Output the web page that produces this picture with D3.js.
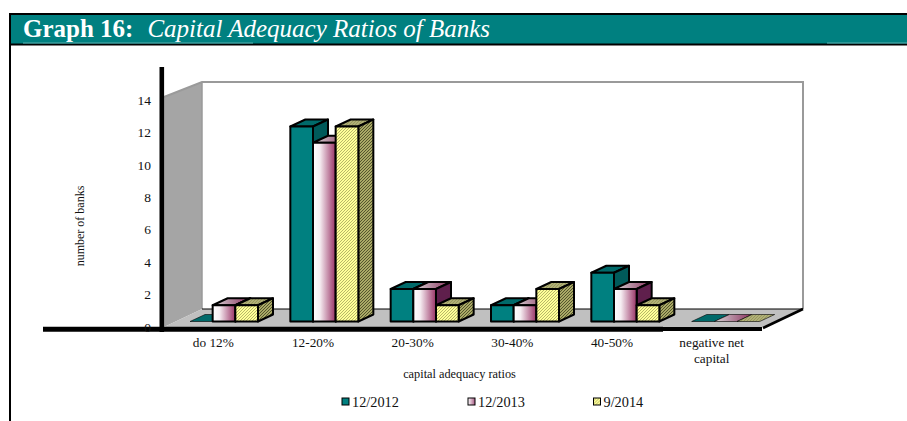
<!DOCTYPE html>
<html>
<head>
<meta charset="utf-8">
<script src="https://cdn.jsdelivr.net/npm/d3@7/dist/d3.min.js"></script>
<style>
html,body{margin:0;padding:0;background:#fff;overflow:hidden}
svg{display:block}
text{font-family:"Liberation Serif","Times New Roman",serif;fill:#111}
</style>
</head>
<body>
<script>
const categories = ["do 12%", "12-20%", "20-30%", "30-40%", "40-50%", "negative net capital"];
const seriesNames = ["12/2012", "12/2013", "9/2014"];
const values2012 = [0, 12, 2, 1, 3, 0];
const values2013 = [1, 11, 2, 1, 2, 0];
const values2014 = [1, 12, 1, 2, 1, 0];
const yTicks = [0, 2, 4, 6, 8, 10, 12, 14];

const width = 907, height = 421;
const svg = d3.select("body").append("svg").attr("width", width).attr("height", height);
const defs = svg.append("defs");

// Horizontal shading used on the middle series.
function hGrad(id, stops) {
  const g = defs.append("linearGradient").attr("id", id);
  stops.forEach(([o, c]) => g.append("stop").attr("offset", o).attr("stop-color", c));
}
hGrad("pinkFront", [[0, "#ffffff"], [0.3, "#f6eef2"], [1, "#993366"]]);
hGrad("pinkTop", [[0, "#d8d8d8"], [1, "#8a2f5c"]]);
hGrad("pinkSwatch", [[0, "#ffffff"], [1, "#a85a84"]]);

// Fine diagonal hatching for the last series.
function hatch(id, a, b) {
  const p = defs.append("pattern").attr("id", id).attr("width", 3).attr("height", 3)
    .attr("patternUnits", "userSpaceOnUse");
  p.append("rect").attr("width", 3).attr("height", 3).attr("fill", a);
  [[0, 2], [1, 1], [2, 0]].forEach(([px, py]) =>
    p.append("rect").attr("x", px).attr("y", py).attr("width", 1).attr("height", 1).attr("fill", b));
}
hatch("yellowFront", "#ffff99", "#b8b868");
hatch("yellowSide", "#aaaa66", "#55552e");
hatch("yellowTop", "#b0b078", "#98985c");

const styles = [
  { front: "#008080", side: "#005a5a", top: "#006a6a" },
  { front: "url(#pinkFront)", side: "#5f1f4c", top: "url(#pinkTop)" },
  { front: "url(#yellowFront)", side: "url(#yellowSide)", top: "url(#yellowTop)" }
];

// Title band, running off the right of the page, and the left page rule.
svg.append("rect").attr("x", 10).attr("y", 14).attr("width", width).attr("height", 30.5)
  .attr("fill", "#008080").attr("stroke", "#000").attr("stroke-width", 2);
svg.append("line").attr("x1", 10).attr("x2", 10).attr("y1", 14).attr("y2", height).attr("stroke", "#000").attr("stroke-width", 2);
[[23, 253], [827, 907]].forEach(([a, b]) =>
  svg.append("line").attr("x1", a).attr("x2", b).attr("y1", 43).attr("y2", 43).attr("stroke", "#5cb0b0").attr("stroke-width", 1));
const title = svg.append("text").attr("x", 23).attr("y", 37).style("font-size", "25px");
title.append("tspan").style("font-weight", "bold").style("fill", "#fff").text("Graph 16:");
title.append("tspan").attr("dx", 14).style("font-style", "italic").style("fill", "#fff").text("Capital Adequacy Ratios of Banks");

// Scales: value scale sits on the front plane, the depth offset gives the 3D look.
const y = d3.scaleLinear().domain([0, 14]).range([321.5, 94]);
const x = d3.scaleBand().domain(categories).range([164, 766]);
const labelX = d3.scaleBand().domain(categories).range([164, 762]);
const group = d3.scaleBand().domain(seriesNames).range([26, 94]);
const depth = { dx: 15, dy: -7 };
const tickY = d3.scaleLinear().domain([0, 14]).range([327, 100]);

const poly = pts => pts.map(p => p.join(",")).join(" ");

// Plot box: wall, back plane and floor.
const plot = svg.append("g");
plot.append("polygon").attr("points", poly([[164, 97], [202, 82], [202, 309], [164, 327]]))
  .attr("fill", "#a5a5a5");
plot.append("polyline").attr("points", poly([[164, 97], [202, 82], [803, 82], [803, 309]]))
  .attr("fill", "none").attr("stroke", "#9a9a9a").attr("stroke-width", 2);
plot.append("line").attr("x1", 202).attr("x2", 202).attr("y1", 82).attr("y2", 309)
  .attr("stroke", "#9a9a9a").attr("stroke-width", 1.5);
plot.append("polygon").attr("points", poly([[164, 327], [202, 309], [803, 309], [763, 327]]))
  .attr("fill", "#c0c0c0");
plot.append("line").attr("x1", 202).attr("x2", 803).attr("y1", 309).attr("y2", 309)
  .attr("stroke", "#000").attr("stroke-width", 1);
plot.append("line").attr("x1", 803).attr("x2", 763).attr("y1", 309).attr("y2", 328)
  .attr("stroke", "#000").attr("stroke-width", 2.5);

// Bars, drawn series by series so neighbours overlap correctly.
const seriesValues = [values2012, values2013, values2014];
const bars = svg.append("g").attr("stroke", "#000").attr("stroke-width", 2).attr("stroke-linejoin", "round");
categories.forEach((cat, ci) => {
  seriesValues.forEach((vals, si) => {
    const s = styles[si];
    const x0 = x(cat) + group(seriesNames[si]);
    const x1 = x0 + group.bandwidth();
    const yT = y(vals[ci]), yB = y(0);
    const { dx, dy } = depth;
    const g = bars.append("g");
    g.append("polygon").attr("points", poly([[x0, yT], [x0 + dx, yT + dy], [x1 + dx, yT + dy], [x1, yT]])).attr("fill", s.top)
      .attr("stroke-width", vals[ci] === 0 ? 0.6 : 2);
    if (vals[ci] > 0) {
      g.append("polygon").attr("points", poly([[x1, yT], [x1 + dx, yT + dy], [x1 + dx, yB + dy], [x1, yB]])).attr("fill", s.side);
      g.append("rect").attr("x", x0).attr("y", yT).attr("width", x1 - x0).attr("height", yB - yT).attr("fill", s.front);
    }
  });
});

// Heavy axis lines.
svg.append("line").attr("x1", 161.8).attr("x2", 161.8).attr("y1", 67).attr("y2", 332).attr("stroke", "#000").attr("stroke-width", 4.6);
svg.append("line").attr("x1", 43).attr("x2", 663).attr("y1", 329.2).attr("y2", 329.2).attr("stroke", "#000").attr("stroke-width", 5);
svg.append("line").attr("x1", 663).attr("x2", 762).attr("y1", 329).attr("y2", 329).attr("stroke", "#000").attr("stroke-width", 4);

// Value labels.
svg.append("g").selectAll("text").data(yTicks).join("text")
  .attr("x", 151).attr("y", d => tickY(d)).attr("dy", "0.35em").attr("text-anchor", "end")
  .style("font-size", "13.5px").text(d => d);

// Category labels, wrapped on the space for the long one.
const catLabels = svg.append("g").selectAll("text").data(categories).join("text")
  .attr("text-anchor", "middle").attr("y", 347).style("font-size", "13.3px");
catLabels.each(function (d) {
  const cx = labelX(d) + labelX.bandwidth() / 2 - 0.5;
  const lines = d.length > 10 ? ["negative net", "capital"] : [d];
  d3.select(this).selectAll("tspan").data(lines).join("tspan")
    .attr("x", cx).attr("dy", (l, i) => i ? 16 : 0).text(l => l);
});

// Axis titles.
svg.append("text").attr("transform", "translate(84,226) rotate(-90)").attr("text-anchor", "middle")
  .style("font-size", "12px").text("number of banks");
svg.append("text").attr("x", 459.5).attr("y", 378).attr("text-anchor", "middle")
  .style("font-size", "12.3px").text("capital adequacy ratios");

// Legend.
const legendX = d3.scaleOrdinal().domain(seriesNames).range([342, 468, 593.5]);
const swatchFill = ["#008080", "url(#pinkSwatch)", "url(#yellowFront)"];
const legend = svg.append("g").selectAll("g").data(seriesNames).join("g")
  .attr("transform", d => `translate(${legendX(d)},398)`);
legend.append("rect").attr("width", 7).attr("height", 7).attr("fill", (d, i) => swatchFill[i])
  .attr("stroke", "#000").attr("stroke-width", 1);
legend.append("text").attr("x", 10).attr("y", 9).style("font-size", "14.3px").text(d => d);
</script>
</body>
</html>
